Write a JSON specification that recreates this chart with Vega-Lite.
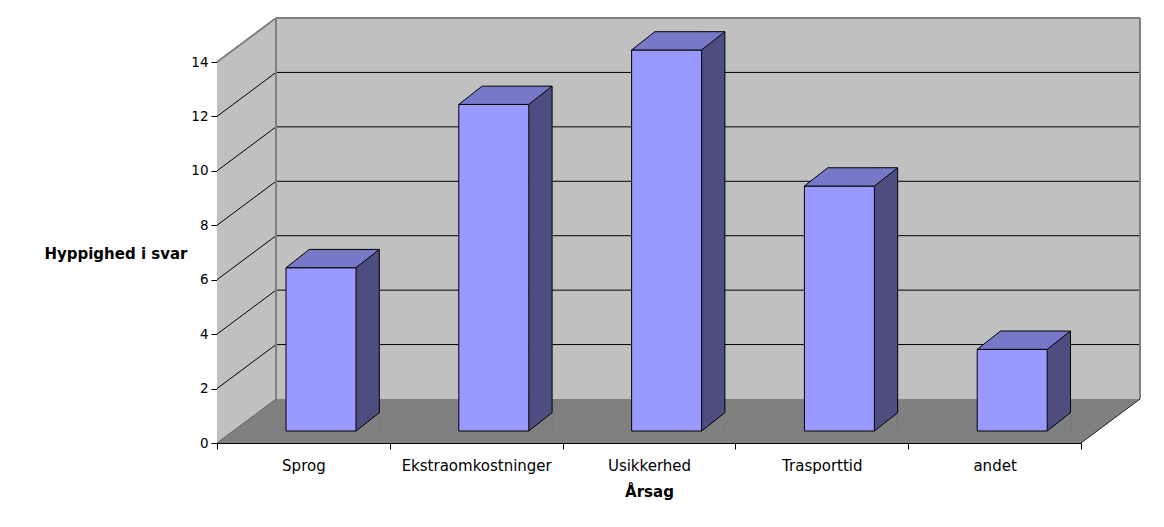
{
  "$schema": "https://vega.github.io/schema/vega-lite/v6.json",
  "width": 864,
  "height": 381,
  "autosize": {"type": "none"},
  "padding": {"left": 217, "top": 62, "right": 83, "bottom": 84},
  "background": "white",
  "config": {
    "view": {"stroke": null},
    "font": "DejaVu Sans",
    "axisX": {"tickBand": "extent", "labelFont": "DejaVu Sans", "labelFontSize": 15, "labelColor": "black", "tickColor": "black", "domainColor": "black", "tickSize": 6, "labelPadding": 9, "labelAngle": 0, "titleFont": "DejaVu Sans", "titleFontSize": 15, "titleFontWeight": "bold", "titleColor": "black", "titlePadding": 11, "zindex": 1, "grid": false},
    "axisY": {"tickSize": 6, "labelPadding": 3, "labelFont": "DejaVu Sans", "labelFontSize": 13.5, "labelColor": "black", "tickColor": "black", "domainColor": "black", "titleAngle": 0, "titleAlign": "right", "titleBaseline": "middle", "titleX": -30, "titleY": 191, "titleFont": "DejaVu Sans", "titleFontSize": 15, "titleFontWeight": "bold", "titleColor": "black", "zindex": 1, "grid": false}
  },
  "datasets": {
    "bars": [
      {"Årsag": "Sprog", "Hyppighed": 6},
      {"Årsag": "Ekstraomkostninger", "Hyppighed": 12},
      {"Årsag": "Usikkerhed", "Hyppighed": 14},
      {"Årsag": "Trasporttid", "Hyppighed": 9},
      {"Årsag": "andet", "Hyppighed": 3}
    ],
    "grid": [{"v": 2}, {"v": 4}, {"v": 6}, {"v": 8}, {"v": 10}, {"v": 12}],
    "diag": [{"v": 2}, {"v": 4}, {"v": 6}, {"v": 8}, {"v": 10}, {"v": 12}],
    "one": [{"k": 1}]
  },
  "layer": [
    {
      "data": {"name": "one"},
      "mark": {"type": "rect", "fill": "#C0C0C0", "strokeWidth": 0, "xOffset": 59, "x2Offset": 59, "yOffset": -44, "y2Offset": -44},
      "encoding": {
        "x": {"value": 0},
        "x2": {"value": "width"},
        "y": {"datum": 14, "type": "quantitative", "scale": {"domain": [0, 14], "nice": false}, "axis": {"values": [0, 2, 4, 6, 8, 10, 12, 14]}, "title": "Hyppighed i svar"},
        "y2": {"datum": 0}
      }
    },
    {
      "data": {"name": "one"},
      "mark": {"type": "point", "filled": true, "opacity": 1, "fill": "#C0C0C0", "strokeWidth": 0, "size": 851929, "shape": "M-1,0.047671L-1,-0.777898L-0.872156,-0.873239L-0.872156,-0.047671Z", "xOffset": 29.5, "yOffset": -22},
      "encoding": {
        "x": {"datum": "Usikkerhed", "type": "nominal", "title": "Årsag"},
        "y": {"datum": 0, "type": "quantitative", "title": "Hyppighed i svar"}
      }
    },
    {
      "data": {"name": "one"},
      "mark": {"type": "point", "filled": true, "opacity": 1, "fill": "#808080", "strokeWidth": 0, "size": 851929, "shape": "M-1,0.047671L0.872156,0.047671L1,-0.047671L-0.872156,-0.047671Z", "xOffset": 29.5, "yOffset": -22},
      "encoding": {
        "x": {"datum": "Usikkerhed", "type": "nominal", "title": "Årsag"},
        "y": {"datum": 0, "type": "quantitative", "title": "Hyppighed i svar"}
      }
    },
    {
      "data": {"name": "grid"},
      "mark": {"type": "rule", "stroke": "black", "strokeWidth": 1, "xOffset": 59, "x2Offset": 59, "yOffset": -44, "y2Offset": -44},
      "encoding": {
        "x": {"value": 0},
        "x2": {"value": "width"},
        "y": {"field": "v", "type": "quantitative", "title": "Hyppighed i svar"},
        "y2": {"field": "v"}
      }
    },
    {
      "data": {"name": "diag"},
      "mark": {"type": "rule", "stroke": "black", "strokeWidth": 1, "x2Offset": 59, "y2Offset": -44},
      "encoding": {
        "x": {"value": 0},
        "x2": {"value": 0},
        "y": {"field": "v", "type": "quantitative", "title": "Hyppighed i svar"},
        "y2": {"field": "v"}
      }
    },
    {
      "data": {"name": "one"},
      "mark": {"type": "rule", "stroke": "#808080", "strokeWidth": 2, "xOffset": 59, "x2Offset": 59, "yOffset": -44, "y2Offset": -44},
      "encoding": {
        "x": {"value": 0},
        "x2": {"value": "width"},
        "y": {"datum": 14, "type": "quantitative", "title": "Hyppighed i svar"},
        "y2": {"datum": 14}
      }
    },
    {
      "data": {"name": "one"},
      "mark": {"type": "rule", "stroke": "#808080", "strokeWidth": 2, "xOffset": 59, "x2Offset": 59, "yOffset": -44, "y2Offset": -44},
      "encoding": {
        "x": {"value": 0},
        "x2": {"value": 0},
        "y": {"datum": 14, "type": "quantitative", "title": "Hyppighed i svar"},
        "y2": {"datum": 0}
      }
    },
    {
      "data": {"name": "one"},
      "mark": {"type": "rule", "stroke": "#808080", "strokeWidth": 2, "xOffset": 59, "x2Offset": 59, "yOffset": -44, "y2Offset": -44},
      "encoding": {
        "x": {"value": "width"},
        "x2": {"value": "width"},
        "y": {"datum": 14, "type": "quantitative", "title": "Hyppighed i svar"},
        "y2": {"datum": 0}
      }
    },
    {
      "data": {"name": "one"},
      "mark": {"type": "rule", "stroke": "#808080", "strokeWidth": 2, "x2Offset": 59, "y2Offset": -44},
      "encoding": {
        "x": {"value": 0},
        "x2": {"value": 0},
        "y": {"datum": 14, "type": "quantitative", "title": "Hyppighed i svar"},
        "y2": {"datum": 14}
      }
    },
    {
      "data": {"name": "one"},
      "mark": {"type": "rule", "stroke": "#606060", "strokeWidth": 1, "x2Offset": 59, "y2Offset": -44},
      "encoding": {
        "x": {"value": 0},
        "x2": {"value": 0},
        "y": {"datum": 0, "type": "quantitative", "title": "Hyppighed i svar"},
        "y2": {"datum": 0}
      }
    },
    {
      "data": {"name": "one"},
      "mark": {"type": "rule", "stroke": "#202020", "strokeWidth": 1, "x2Offset": 59, "y2Offset": -44},
      "encoding": {
        "x": {"value": "width"},
        "x2": {"value": "width"},
        "y": {"datum": 0, "type": "quantitative", "title": "Hyppighed i svar"},
        "y2": {"datum": 0}
      }
    },
    {
      "data": {"name": "bars"},
      "mark": {"type": "bar", "fill": "#4D4D80", "strokeWidth": 0, "width": 23.3, "xOffset": 64.25, "yOffset": -30.3, "y2Offset": -12},
      "encoding": {
        "x": {"field": "Årsag", "type": "nominal", "sort": null, "scale": {"type": "band", "paddingInner": 0, "paddingOuter": 0, "domain": ["Sprog", "Ekstraomkostninger", "Usikkerhed", "Trasporttid", "andet"]}, "title": "Årsag"},
        "y": {"field": "Hyppighed", "type": "quantitative", "title": "Hyppighed i svar"},
        "y2": {"datum": 0}
      }
    },
    {
      "data": {"name": "bars"},
      "mark": {"type": "point", "filled": true, "opacity": 1, "fill": "#808080", "strokeWidth": 0, "size": 542.89, "shape": "M-1,0.7854L1,-0.7854L1,0.7854Z", "xOffset": 64.25, "yOffset": -21.15},
      "encoding": {
        "x": {"field": "Årsag", "type": "nominal", "sort": null, "title": "Årsag"},
        "y": {"datum": 0, "type": "quantitative", "title": "Hyppighed i svar"}
      }
    },
    {
      "data": {"name": "bars"},
      "mark": {"type": "point", "filled": false, "opacity": 1, "fill": "transparent", "stroke": "black", "strokeWidth": 1, "size": 542.89, "shape": "M-1,0.7854L1,-0.7854", "xOffset": 64.25, "yOffset": -21.15},
      "encoding": {
        "x": {"field": "Årsag", "type": "nominal", "sort": null, "title": "Årsag"},
        "y": {"datum": 0, "type": "quantitative", "title": "Hyppighed i svar"}
      }
    },
    {
      "data": {"name": "bars"},
      "mark": {"type": "rule", "stroke": "black", "strokeWidth": 1, "xOffset": 75.9, "x2Offset": 75.9, "yOffset": -30.3, "y2Offset": -30.3},
      "encoding": {
        "x": {"field": "Årsag", "type": "nominal", "sort": null, "title": "Årsag"},
        "y": {"field": "Hyppighed", "type": "quantitative", "title": "Hyppighed i svar"},
        "y2": {"datum": 0}
      }
    },
    {
      "data": {"name": "bars"},
      "mark": {"type": "bar", "fill": "#9999FF", "stroke": "black", "strokeWidth": 1, "width": {"band": 0.405}, "xOffset": 17.6, "x2Offset": 17.6, "yOffset": -12, "y2Offset": -12},
      "encoding": {
        "x": {"field": "Årsag", "type": "nominal", "sort": null, "title": "Årsag"},
        "y": {"field": "Hyppighed", "type": "quantitative", "title": "Hyppighed i svar"},
        "y2": {"datum": 0}
      }
    },
    {
      "data": {"name": "bars"},
      "mark": {"type": "point", "filled": true, "opacity": 1, "fill": "#7878C8", "stroke": "black", "strokeWidth": 1, "size": 8704.89, "shape": "M-1,0.19614L0.50054,0.19614L1,-0.19614L-0.50054,-0.19614Z", "xOffset": 29.25, "yOffset": -21.15},
      "encoding": {
        "x": {"field": "Årsag", "type": "nominal", "sort": null, "title": "Årsag"},
        "y": {"field": "Hyppighed", "type": "quantitative", "title": "Hyppighed i svar"}
      }
    }
  ]
}
